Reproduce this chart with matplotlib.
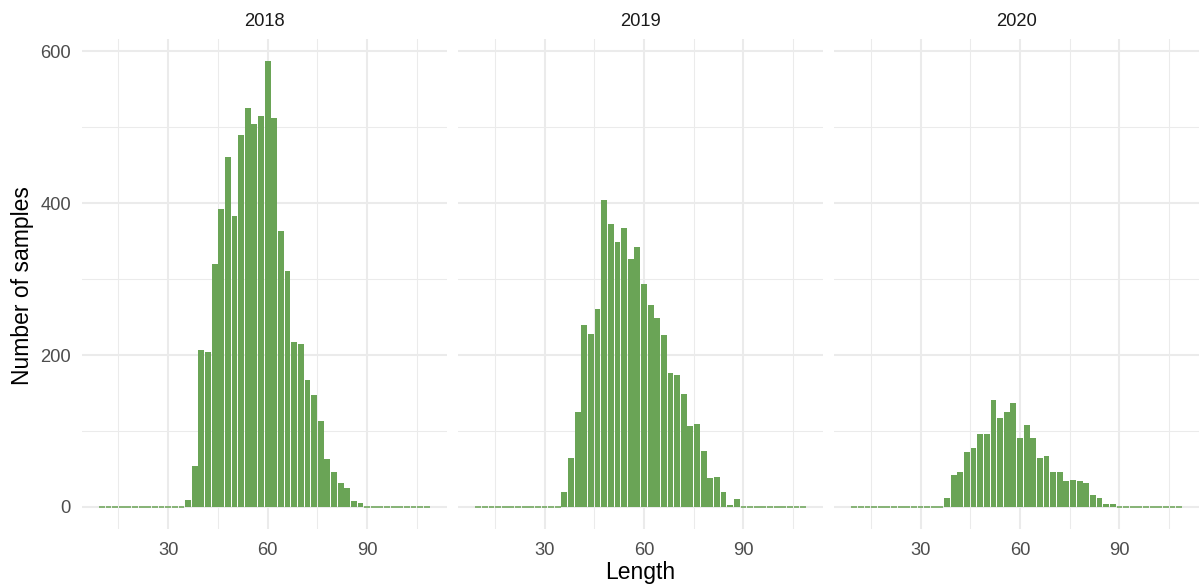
import matplotlib
matplotlib.use("Agg")
import matplotlib.pyplot as plt
from matplotlib.ticker import MultipleLocator

plt.rcParams['font.family'] = ['Liberation Sans', 'DejaVu Sans']

years = ["2018", "2019", "2020"]
bin_centers = [10, 12, 14, 16, 18, 20, 22, 24, 26, 28, 30, 32, 34, 36, 38, 40, 42, 44, 46, 48,
               50, 52, 54, 56, 58, 60, 62, 64, 66, 68, 70, 72, 74, 76, 78, 80, 82, 84, 86, 88,
               90, 92, 94, 96, 98, 100, 102, 104, 106, 108]
counts_2018 = [0, 0, 0, 0, 0, 0, 0, 0, 0, 0, 0, 0, 0,
               9, 54, 207, 204, 320, 392, 460, 383, 489, 525, 504, 514, 587, 512, 363, 311,
               217, 214, 167, 147, 113, 63, 46, 31, 25, 8, 5,
               0, 0, 0, 0, 0, 0, 0, 0, 0, 0]
counts_2019 = [0, 0, 0, 0, 0, 0, 0, 0, 0, 0, 0, 0, 0,
               20, 65, 125, 239, 228, 260, 404, 372, 349, 367, 326, 342, 293, 266, 249, 226,
               176, 174, 149, 107, 109, 74, 38, 39, 20, 3, 10,
               0, 0, 0, 0, 0, 0, 0, 0, 0, 0]
counts_2020 = [0, 0, 0, 0, 0, 0, 0, 0, 0, 0, 0, 0, 0,
               0, 12, 42, 46, 72, 78, 96, 96, 141, 117, 125, 137, 91, 108, 91, 64,
               67, 46, 46, 34, 36, 34, 32, 16, 12, 4, 4,
               0, 0, 0, 0, 0, 0, 0, 0, 0, 0]
all_counts = [counts_2018, counts_2019, counts_2020]
x_ticks = [30, 60, 90]
y_ticks = [0, 200, 400, 600]

bin_width = 2
bar_color = "#6aa456"
grid_color = "#ebebeb"

fig = plt.figure(figsize=(12, 5.86), dpi=100)
W, H = 1200, 586
panel_lefts = [82, 458.3, 834.3]
panel_w = 364.7
top_px, bot_px = 38.6, 529.3

ymax = max(max(c) for c in all_counts)
xmin = min(bin_centers) - bin_width / 2
xmax = max(bin_centers) + bin_width / 2
xr = xmax - xmin

for i, (year, counts) in enumerate(zip(years, all_counts)):
    ax = fig.add_axes([panel_lefts[i] / W, 1 - bot_px / H, panel_w / W, (bot_px - top_px) / H])
    lws = [1.1 if c == 0 else 0 for c in counts]
    ax.bar(bin_centers, counts, width=bin_width * 0.88, color=bar_color,
           edgecolor=bar_color, linewidth=lws, zorder=3)
    ax.set_xlim(xmin - 0.05 * xr, xmax + 0.05 * xr)
    ax.set_ylim(-0.05 * ymax, 1.05 * ymax)
    ax.set_xticks(x_ticks)
    ax.xaxis.set_minor_locator(MultipleLocator(15))
    ax.set_yticks(y_ticks)
    ax.yaxis.set_minor_locator(MultipleLocator(100))
    ax.grid(True, which='major', color=grid_color, linewidth=1.5, zorder=0)
    ax.grid(True, which='minor', color=grid_color, linewidth=0.75, zorder=0)
    ax.set_axisbelow(True)
    for s in ax.spines.values():
        s.set_visible(False)
    ax.tick_params(which='both', length=0, labelsize=13.2, labelcolor='#4d4d4d')
    ax.tick_params(axis='x', pad=9)
    ax.tick_params(axis='y', pad=8)
    if i > 0:
        ax.tick_params(labelleft=False)
    ax.set_title(year, fontsize=13.2, color='#1a1a1a', pad=9)

fig.text((82 + 1199) / 2 / W, 1 - 579.5 / H, "Length", ha='center', va='baseline',
         fontsize=16.5, color='black')
fig.text(22.5 / W, 1 - 286 / H, "Number of samples", ha='center', va='center',
         rotation=90, fontsize=16.5, color='black')

fig.savefig("out.png", dpi=100, facecolor='white')
